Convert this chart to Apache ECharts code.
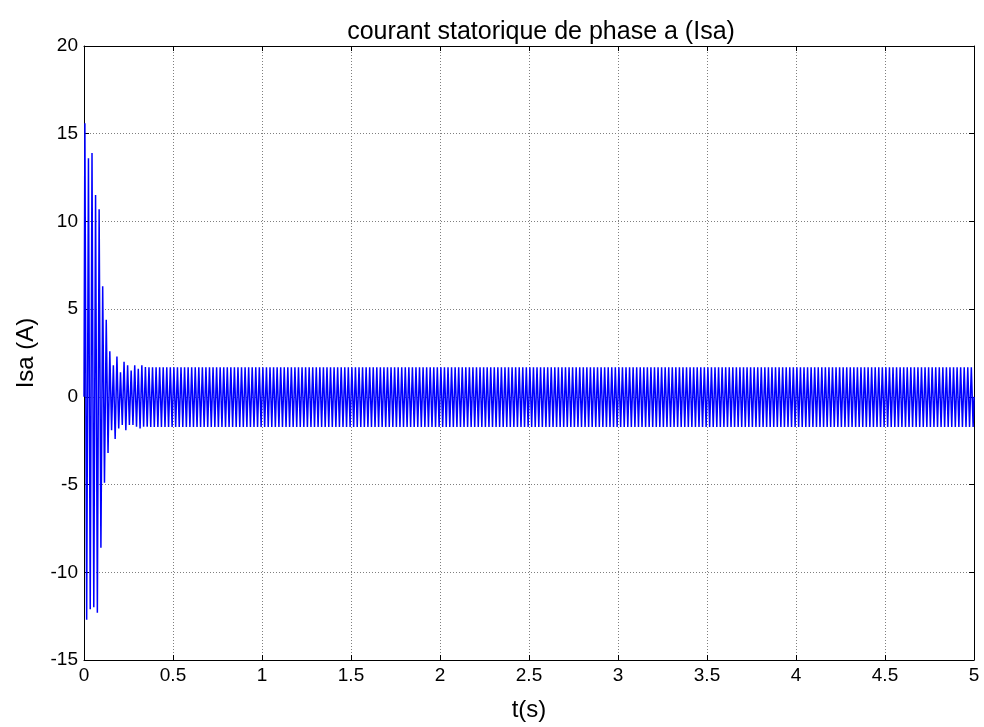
<!DOCTYPE html>
<html>
<head>
<meta charset="utf-8">
<script src="https://cdn.jsdelivr.net/npm/echarts@6/dist/echarts.min.js"></script>
<style>
  html, body { margin: 0; padding: 0; background: #fff; }
  #chart { width: 984px; height: 727px; }
</style>
</head>
<body>
<div id="chart"></div>
<script>
// axis ticks
const xTicks = [0, 0.5, 1, 1.5, 2, 2.5, 3, 3.5, 4, 4.5, 5];
const yTicks = [-15, -10, -5, 0, 5, 10, 15, 20];

// peak values, one per half cycle of the 50 Hz current
const transientPos = [15.6, 13.6, 13.9, 11.5, 10.7, 6.3, 4.4, 2.6, 1.8, 2.3, 1.4, 2.0, 1.8, 1.5, 1.8, 1.6, 1.8, 1.7];
const transientNeg = [-12.7, -12.1, -12.0, -12.3, -8.6, -4.9, -3.2, -1.9, -2.4, -1.8, -1.6, -1.9, -1.6, -1.6, -1.7, -1.8, -1.7, -1.7];
// steady state envelope
const steadyPos = 1.68;
const steadyNeg = -1.72;
const freq = 50;      // Hz
const tEnd = 5;       // s

// build the zig-zag between peaks
const points = [[0, 0]];
const period = 1 / freq;
const nCycles = Math.round(tEnd * freq);
for (let k = 0; k < nCycles; k++) {
  const p = k < transientPos.length ? transientPos[k] : steadyPos;
  const n = k < transientNeg.length ? transientNeg[k] : steadyNeg;
  points.push([k * period + period / 4, p]);
  points.push([k * period + 3 * period / 4, n]);
}
points.push([tEnd, 0]);

const font = '"Liberation Sans", Arial, sans-serif';

const myChart = echarts.init(document.getElementById('chart'));
const option = {
  animation: false,
  backgroundColor: '#fff',
  title: {
    text: 'courant statorique de phase a (Isa)',
    left: 536,
    top: 15,
    textAlign: 'center',
    textStyle: { fontFamily: font, fontSize: 25, fontWeight: 'normal', color: '#000' },
  },
  grid: { left: 84, right: 10, top: 46, bottom: 67, outerBoundsMode: 'none', containLabel: false },
  xAxis: [
    {
      type: 'value',
      min: xTicks[0],
      max: xTicks[xTicks.length - 1],
      interval: 0.5,
      name: 't(s)',
      nameLocation: 'middle',
      nameGap: 38,
      nameTextStyle: { fontFamily: font, fontSize: 24, color: '#000' },
      axisLine: { onZero: false, lineStyle: { color: '#000', width: 1 } },
      axisTick: { inside: true, length: 5, lineStyle: { color: '#000' } },
      axisLabel: { fontFamily: font, fontSize: 19, color: '#000', margin: 6 },
      splitLine: { show: true, lineStyle: { color: '#7f7f7f', type: [1, 2], width: 1 } },
    },
    {
      type: 'value',
      position: 'top',
      min: xTicks[0],
      max: xTicks[xTicks.length - 1],
      interval: 0.5,
      axisLine: { onZero: false, lineStyle: { color: '#000', width: 1 } },
      axisTick: { inside: true, length: 5, lineStyle: { color: '#000' } },
      axisLabel: { show: false },
      splitLine: { show: false },
    },
  ],
  yAxis: [
    {
      type: 'value',
      min: yTicks[0],
      max: yTicks[yTicks.length - 1],
      interval: 5,
      name: 'Isa (A)',
      nameLocation: 'middle',
      nameGap: 46,
      nameTextStyle: { fontFamily: font, fontSize: 24, color: '#000' },
      axisLine: { onZero: false, lineStyle: { color: '#000', width: 1 } },
      axisTick: { inside: true, length: 5, lineStyle: { color: '#000' } },
      axisLabel: { fontFamily: font, fontSize: 19, color: '#000', margin: 6 },
      splitLine: { show: true, lineStyle: { color: '#7f7f7f', type: [1, 2], width: 1 } },
    },
    {
      type: 'value',
      position: 'right',
      min: yTicks[0],
      max: yTicks[yTicks.length - 1],
      interval: 5,
      axisLine: { onZero: false, lineStyle: { color: '#000', width: 1 } },
      axisTick: { inside: true, length: 5, lineStyle: { color: '#000' } },
      axisLabel: { show: false },
      splitLine: { show: false },
    },
  ],
  series: [
    {
      name: 'Isa',
      type: 'line',
      data: points,
      showSymbol: false,
      lineStyle: { color: '#0000ff', width: 1.5 },
      itemStyle: { color: '#0000ff' },
    },
  ],
};
myChart.setOption(option);
</script>
</body>
</html>
